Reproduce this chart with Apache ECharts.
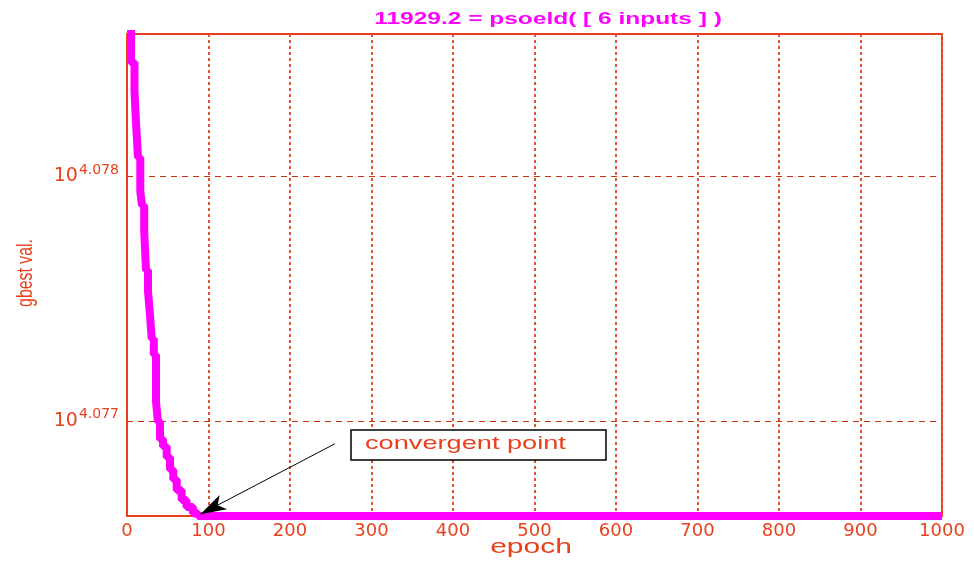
<!DOCTYPE html>
<html>
<head>
<meta charset="utf-8">
<script src="https://cdn.jsdelivr.net/npm/echarts@6/dist/echarts.min.js"></script>
<style>html,body{margin:0;padding:0;background:#fff}#c{width:974px;height:561px}</style>
</head>
<body>
<div id="c"></div>
<script>
// ---- data ----
const titleText = '11929.2 = psoeld( [ 6 inputs ] )';
const xName = 'epoch';
const yName = 'gbest val.';
const xTicks = [0, 100, 200, 300, 400, 500, 600, 700, 800, 900, 1000];
const yTickExps = [4.077, 4.078];
const epochs = [0, 4.9, 9.2, 11.4, 13.5, 16.3, 18.4, 21.1, 23.3, 25.8, 28.2, 30.3, 32.9, 35.6, 38.0, 40.5, 44.2, 48.7, 52.8, 56.8, 61.0, 67.1, 73, 81, 87, 1000];
const gbest = [11990.0, 11980.2, 11976.9, 11972.8, 11969.5, 11965.7, 11964.1, 11961.2, 11956.8, 11954.4, 11951.8, 11949.1, 11947.3, 11942.0, 11939.8, 11937.8, 11937.0, 11935.8, 11934.4, 11933.3, 11932.1, 11931.0, 11930.2, 11929.5, 11929.2, 11929.2];
const yMin = 11929.2, yMax = 11983.4;
const annText = 'convergent point';
const arrowFrom = [255, 11937.3];
const arrowTo = [90, 11929.4];

const RED = '#e8401c';
const chart = echarts.init(document.getElementById('c'));
const yTickVals = yTickExps.map(e => Math.pow(10, e));

chart.setOption({
  animation: false,
  backgroundColor: '#fff',
  grid: {left: 127, right: 32, top: 34, bottom: 45, show: true, borderColor: RED, borderWidth: 2,
         backgroundColor: 'transparent', outerBoundsMode: 'none', containLabel: false},
  xAxis: {
    type: 'value', min: xTicks[0], max: xTicks[xTicks.length - 1], interval: 100,
    axisLine: {show: true, lineStyle: {color: RED, width: 2}},
    axisTick: {show: false},
    axisLabel: {color: RED, fontFamily: 'DejaVu Sans', fontSize: 18, margin: 6, formatter: v => String(v)},
    splitLine: {show: true, lineStyle: {color: '#e85030', width: 2, type: [3, 3]}}
  },
  yAxis: {
    type: 'log', min: yMin, max: yMax,
    axisLine: {show: true, lineStyle: {color: RED, width: 2}},
    axisTick: {show: false, customValues: yTickVals},
    axisLabel: {
      customValues: yTickVals, margin: 8,
      formatter: v => '{b|10}{s|' + (Math.log10(v)).toFixed(3) + '}',
      rich: {
        b: {color: RED, fontFamily: 'DejaVu Sans', fontSize: 19, lineHeight: 30, verticalAlign: 'middle'},
        s: {color: RED, fontFamily: 'DejaVu Sans', fontSize: 14, lineHeight: 30, verticalAlign: 'top', padding: [2, 0, 0, 1]}
      }
    },
    splitLine: {show: false}
  },
  series: [
    {
      type: 'line', data: epochs.map((e, i) => [e, gbest[i]]),
      step: 'end', showSymbol: false, symbol: 'none', clip: true,
      lineStyle: {color: '#ff00ff', width: 8},
      z: 3,
      markLine: {
        silent: true, symbol: ['none', 'none'], label: {show: false}, z: 1,
        lineStyle: {color: '#c83010', width: 1, type: [6, 5]},
        data: yTickVals.map(v => ({yAxis: v}))
      }
    },
    {
      type: 'line', data: [], z: 5,
      markLine: {
        silent: true, symbol: ['none', 'arrow'], symbolSize: [12, 26], label: {show: false},
        lineStyle: {color: '#000', width: 1, type: 'solid'},
        data: [[{coord: arrowFrom}, {coord: arrowTo}]]
      }
    }
  ],
  graphic: [
    {type: 'text', x: 548, y: 19, z: 20,
     scaleX: 1.44,
     style: {text: titleText, fill: '#ff00ff', font: 'bold 17px "Liberation Sans"', align: 'center', verticalAlign: 'middle'}},
    {type: 'text', x: 26, y: 273, rotation: Math.PI / 2, scaleX: 0.72, z: 20,
     style: {text: yName, fill: RED, font: '22px "Liberation Sans"', align: 'center', verticalAlign: 'middle'}},
    {type: 'text', x: 531, y: 547, scaleX: 1.5, z: 20,
     style: {text: xName, fill: RED, font: '20px "Liberation Sans"', align: 'center', verticalAlign: 'middle'}},
    {type: 'rect', shape: {x: 351, y: 430, width: 255, height: 30}, style: {fill: '#fff', stroke: '#000', lineWidth: 1.5}, z: 10},
    {type: 'text', x: 365, y: 444, scaleX: 1.43, z: 11,
     style: {text: annText, fill: RED, font: '19px "Liberation Sans"', align: 'left', verticalAlign: 'middle'}}
  ]
});
</script>
</body>
</html>
